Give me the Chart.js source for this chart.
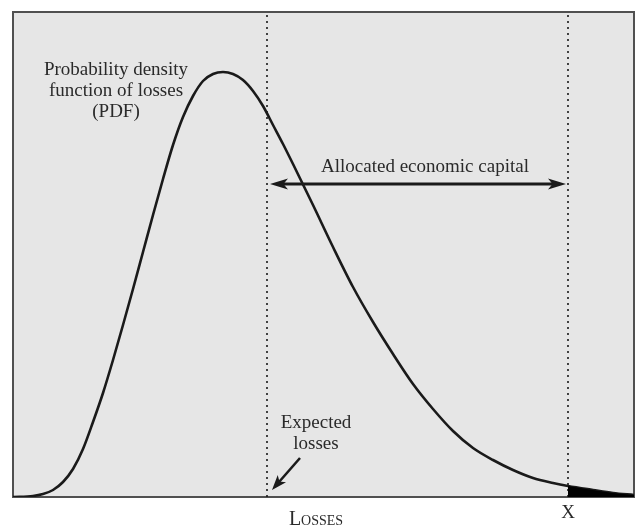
<!DOCTYPE html>
<html>
<head>
<meta charset="utf-8">
<script src="https://cdn.jsdelivr.net/npm/chart.js@4.4.1/dist/chart.umd.min.js"></script>
<style>
  html, body { margin: 0; padding: 0; background: #fff; }
  canvas { display: block; }
</style>
</head>
<body>
<canvas id="pdfChart" width="639" height="531"></canvas>
<script>
// loss values (x) and density of losses (y)
const lossX   = [0, 20, 30, 40, 50, 60, 70, 80, 90, 100, 110, 120, 130, 140, 150, 160, 170, 180, 190, 200, 210, 220, 230, 240, 250, 260, 270, 280, 300, 320, 340, 360, 380, 400, 420, 440, 460, 480, 500, 520, 540, 555, 580, 600, 621];
const density = [0, 1, 3, 7, 15, 28, 48, 75, 104, 137, 172, 208, 245, 282, 318, 352, 380, 401, 416, 423, 425, 423, 417, 406, 391, 372, 353, 333, 292, 250, 210, 175, 143, 113, 88, 66, 49, 37, 27, 19, 14, 11, 7, 4, 2];

const expectedLoss = 254;   // EL marker
const capitalLimit = 555;   // X
const xMax = 621;
const yMax = 485;

const serif = '"Liberation Serif", "DejaVu Serif", serif';

const curve = lossX.map((x, i) => ({ x: x, y: density[i] }));
const tail = curve.filter(p => p.x >= capitalLimit);

const ctx = document.getElementById('pdfChart').getContext('2d');

const panelPlugin = {
    id: 'panel',
    beforeDatasetsDraw(chart) {
        const { ctx, chartArea: a } = chart;
        ctx.save();
        ctx.fillStyle = '#e6e6e6';
        ctx.fillRect(a.left, a.top, a.right - a.left, a.bottom - a.top);
        ctx.strokeStyle = '#505050';
        ctx.lineWidth = 2;
        ctx.strokeRect(a.left, a.top, a.right - a.left, a.bottom - a.top);
        ctx.restore();
    }
};

function arrowHead(ctx, x, y, dx, dy, len, half) {
    const n = Math.hypot(dx, dy);
    const ux = dx / n, uy = dy / n;
    ctx.beginPath();
    ctx.moveTo(x, y);
    ctx.lineTo(x - ux * len - uy * half, y - uy * len + ux * half);
    ctx.lineTo(x - ux * len * 0.75, y - uy * len * 0.75);
    ctx.lineTo(x - ux * len + uy * half, y - uy * len - ux * half);
    ctx.closePath();
    ctx.fill();
}

const notesPlugin = {
    id: 'notes',
    afterDatasetsDraw(chart) {
        const { ctx } = chart;
        const xs = chart.scales.x, ys = chart.scales.y;
        const px = v => xs.getPixelForValue(v);
        const py = v => ys.getPixelForValue(v);
        ctx.save();
        ctx.fillStyle = '#1a1a1a';
        ctx.strokeStyle = '#1a1a1a';

        // double arrow for allocated capital
        const ay = py(313);
        const x1 = px(expectedLoss) + 3, x2 = px(capitalLimit) - 2;
        ctx.lineWidth = 3;
        ctx.beginPath();
        ctx.moveTo(x1 + 10, ay);
        ctx.lineTo(x2 - 10, ay);
        ctx.stroke();
        arrowHead(ctx, x1, ay, -1, 0, 18, 5.5);
        arrowHead(ctx, x2, ay, 1, 0, 18, 5.5);

        // small arrow pointing at expected losses
        const tx = px(expectedLoss) + 5, ty = py(7);
        ctx.lineWidth = 2.5;
        ctx.beginPath();
        ctx.moveTo(px(expectedLoss) + 33, py(39));
        ctx.lineTo(tx + 7, ty - 8);
        ctx.stroke();
        arrowHead(ctx, tx, ty, -28, 32, 15, 5.5);

        // texts
        ctx.fillStyle = '#2a2a2a';
        ctx.textAlign = 'center';
        ctx.textBaseline = 'middle';
        ctx.font = '19px ' + serif;
        ctx.fillText('Probability density', 116, 70);
        ctx.fillText('function of losses', 116, 91);
        ctx.fillText('(PDF)', 116, 112);
        ctx.fillText('Allocated economic capital', 425, 167);
        ctx.fillText('Expected', 316, 423);
        ctx.fillText('losses', 316, 444);
        ctx.fillText('X', px(capitalLimit), 513);
        ctx.font = 'small-caps 20px ' + serif;
        ctx.fillText('Losses', 316, 520);
        ctx.restore();
    }
};

const config = {
    type: 'line',
    data: {
        datasets: [
            {
                label: 'tail',
                data: tail,
                borderWidth: 0,
                pointRadius: 0,
                backgroundColor: '#000',
                fill: 'origin',
                cubicInterpolationMode: 'monotone'
            },
            {
                label: 'PDF',
                data: curve,
                borderColor: '#1a1a1a',
                borderWidth: 2.6,
                pointRadius: 0,
                fill: false,
                cubicInterpolationMode: 'monotone'
            },
            {
                label: 'EL',
                data: [{ x: expectedLoss, y: 0 }, { x: expectedLoss, y: yMax }],
                borderColor: '#1a1a1a',
                borderWidth: 1.6,
                borderDash: [2, 4],
                pointRadius: 0
            },
            {
                label: 'X',
                data: [{ x: capitalLimit, y: 0 }, { x: capitalLimit, y: yMax }],
                borderColor: '#1a1a1a',
                borderWidth: 1.6,
                borderDash: [2, 4],
                pointRadius: 0
            }
        ]
    },
    options: {
        responsive: false,
        animation: false,
        layout: { padding: { left: 13, right: 5, top: 12, bottom: 34 } },
        scales: {
            x: { type: 'linear', min: 0, max: xMax, display: false },
            y: { type: 'linear', min: 0, max: yMax, display: false }
        },
        plugins: {
            legend: { display: false },
            tooltip: { enabled: false }
        }
    },
    plugins: [panelPlugin, notesPlugin]
};

const pdfChart = new Chart(ctx, config);
</script>
</body>
</html>
